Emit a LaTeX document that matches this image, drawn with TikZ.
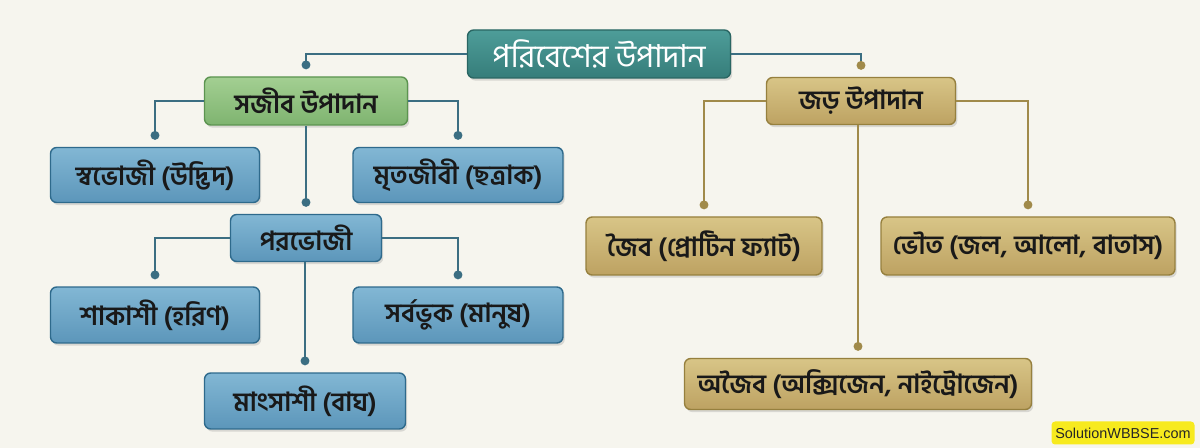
\documentclass[tikz,border=0pt]{standalone}
\usepackage{fontspec}
\usepackage{xcolor}
\usepackage{tikz}
\usetikzlibrary{arrows.meta,positioning,shadows}
\newfontfamily\bn[Script=Bengali]{Hind Siliguri}
\newfontfamily\wmfont{Liberation Sans}

\definecolor{paper}{HTML}{F6F5EE}
\definecolor{tealtop}{HTML}{4E9D99}
\definecolor{tealbot}{HTML}{367D7A}
\definecolor{tealedge}{HTML}{2A6663}
\definecolor{greentop}{HTML}{A3CF92}
\definecolor{greenbot}{HTML}{7FB470}
\definecolor{greenedge}{HTML}{5C9450}
\definecolor{bluetop}{HTML}{82B7D4}
\definecolor{bluebot}{HTML}{5C96BA}
\definecolor{blueedge}{HTML}{2E6A8C}
\definecolor{goldtop}{HTML}{D8C587}
\definecolor{goldbot}{HTML}{BDA262}
\definecolor{goldedge}{HTML}{96803E}
\definecolor{slateline}{HTML}{3B6E82}
\definecolor{goldline}{HTML}{A08A4A}
\definecolor{wmyellow}{HTML}{F7EA1E}

\begin{document}
\begin{tikzpicture}
  [
    x=0.02cm, y=-0.02cm,
    box/.style={rectangle,rounded corners=3.5pt,thick,inner sep=2pt,text=black!90,
      font=\bn\bfseries\fontsize{15}{17}\selectfont,
      drop shadow={opacity=0.25,shadow xshift=1pt,shadow yshift=-1.5pt}},
    rootbox/.style={box,draw=tealedge,top color=tealtop,bottom color=tealbot,
      text=white,font=\bn\fontsize{18}{20}\selectfont},
    livebox/.style={box,draw=greenedge,top color=greentop,bottom color=greenbot},
    bluebox/.style={box,draw=blueedge,top color=bluetop,bottom color=bluebot},
    goldbox/.style={box,draw=goldedge,top color=goldtop,bottom color=goldbot},
    link/.style={line width=1.2pt,draw=#1,-{Circle[length=5pt,color=#1]}}
  ]
  % paper
  \fill[paper] (0,0) rectangle (1200,448);

  % top
  \node[rootbox,minimum width=5.26cm,minimum height=0.96cm] (root) at (599,54) {পরিবেশের উপাদান};

  % living side
  \node[livebox,minimum width=4.06cm,minimum height=0.96cm] (sajib) at (306,101) {সজীব উপাদান};
  \node[bluebox,minimum width=4.18cm,minimum height=1.1cm] (swabhoji) at (155,175) {স্বভোজী (উদ্ভিদ)};
  \node[bluebox,minimum width=4.2cm,minimum height=1.1cm] (mritajibi) at (458,175) {মৃতজীবী (ছত্রাক)};
  \node[bluebox,minimum width=3.02cm,minimum height=0.94cm] (porobhoji) at (306,238) {পরভোজী};
  \node[bluebox,minimum width=4.18cm,minimum height=1.12cm] (shakashi) at (155,315) {শাকাশী (হরিণ)};
  \node[bluebox,minimum width=4.2cm,minimum height=1.12cm] (sarbabhuk) at (458,315) {সর্বভুক (মানুষ)};
  \node[bluebox,minimum width=4.02cm,minimum height=1.12cm] (mangsashi) at (305,401) {মাংসাশী (বাঘ)};

  % non-living side
  \node[goldbox,minimum width=3.78cm,minimum height=0.94cm] (jor) at (861,101) {জড় উপাদান};
  \node[goldbox,minimum width=4.72cm,minimum height=1.16cm] (joib) at (704,246) {জৈব (প্রোটিন ফ্যাট)};
  \node[goldbox,minimum width=5.88cm,minimum height=1.16cm] (bhout) at (1028,246) {ভৌত (জল, আলো, বাতাস)};
  \node[goldbox,minimum width=6.94cm,minimum height=1.02cm] (ajoib) at (858,384) {অজৈব (অক্সিজেন, নাইট্রোজেন)};

  % connectors
  \draw[link=slateline] (root.west) -| ([yshift=4pt]sajib.north);
  \draw[line width=1.2pt,draw=slateline,-{Circle[length=5pt,color=goldline]}] (root.east) -| ([yshift=4pt]jor.north);
  \draw[link=slateline] (sajib.west) -| ([yshift=4pt]swabhoji.north);
  \draw[link=slateline] (sajib.east) -| ([yshift=4pt]mritajibi.north);
  \draw[link=slateline] (sajib.south) -- ([yshift=4pt]porobhoji.north);
  \draw[link=slateline] (porobhoji.west) -| ([yshift=4pt]shakashi.north);
  \draw[link=slateline] (porobhoji.east) -| ([yshift=4pt]sarbabhuk.north);
  \draw[link=slateline] (porobhoji.south -| mangsashi.north) -- ([yshift=4pt]mangsashi.north);
  \draw[link=goldline] (jor.west) -| ([yshift=4pt]joib.north);
  \draw[link=goldline] (jor.east) -| ([yshift=4pt]bhout.north);
  \draw[link=goldline] (jor.south -| ajoib.north) -- ([yshift=4pt]ajoib.north);

  % watermark
  \node[fill=wmyellow,rounded corners=2pt,inner sep=0pt,minimum width=2.86cm,minimum height=0.46cm,
    font=\wmfont\fontsize{8.2}{10}\selectfont,text=black!85] (watermark) at (1123,433) {SolutionWBBSE.com};
\end{tikzpicture}
\end{document}
